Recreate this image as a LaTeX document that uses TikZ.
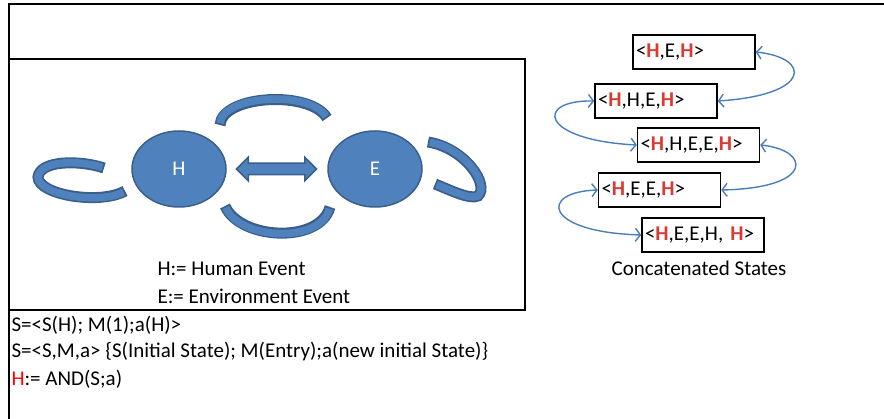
\documentclass[tikz,border=0pt]{standalone}
\usepackage{fontspec}
\setmainfont{Carlito}
\usetikzlibrary{arrows.meta,shapes.geometric,shapes.arrows}
\definecolor{evfill}{HTML}{4F81BD}
\definecolor{evline}{HTML}{3A5F8B}
\definecolor{hred}{HTML}{DC3A31}
\definecolor{linkblue}{HTML}{4A7EBB}
\newcommand{\rH}{\textcolor{hred}{\textbf{H}}}
\newcommand{\band}[1]{\draw[bandout] #1; \draw[bandin] #1;}

\begin{document}
\begin{tikzpicture}[x=1pt,y=-1pt,
    font=\fontsize{21}{25}\selectfont,
    event/.style={ellipse,fill=evfill,draw=evline,line width=1.5pt,
      minimum width=94pt,minimum height=76pt,text=white},
    statebox/.style={draw,line width=1.5pt,minimum height=34pt,
      inner xsep=3pt,text width=116pt,align=left},
    link/.style={draw=linkblue,line width=1.4pt,
      {Straight Barb[length=5pt,width=13pt]}-{Straight Barb[length=5pt,width=13pt]}},
    bandout/.style={draw=evline,line width=11pt},
    bandin/.style={draw=evfill,line width=7.5pt,shorten <=1.8pt,shorten >=1.8pt}]
  \useasboundingbox (0,0) rectangle (884,419);
  % frame
  \draw[line width=2pt] (884,4) -- (9,4) -- (9,419);
  \draw[line width=2pt] (9,59) rectangle (525,310);

  % events
  \node[event] (H) at (179,169) {H};
  \node[event] (E) at (375,169) {E};
  \node[double arrow,fill=evfill,draw=evline,line width=1.5pt,
    minimum height=80pt,double arrow head extend=6pt,
    inner sep=5pt] (HE) at (276.5,169) {};
  \band{(220,125) .. controls (222,95) and (310,90) .. (327,118)}
  \band{(225,206) .. controls (240,240) and (320,244) .. (330,207)}
  \band{(104,168) .. controls (80,160) and (40,160) .. (38,177)
    .. controls (38,195) and (100,205) .. (125,191)}
  \band{(428,142) .. controls (465,148) and (490,185) .. (478,196)
    .. controls (470,200) and (450,190) .. (435,184)}

  \node[anchor=west] (hdef) at (154,269) {H:= Human Event};
  \node[anchor=west] (edef) at (154,296) {E:= Environment Event};
  \node[anchor=west] (rule1) at (8,325) {S=<S(H); M(1);a(H)>};
  \node[anchor=west] (rule2) at (8,352) {S=<S,M,a> \{S(Initial State); M(Entry);a(new initial State)\}};
  \node[anchor=west] (rule3) at (8,379) {\textcolor{red}{H}:= AND(S;a)};

  % states
  \node[statebox] (s1) at (694,52) {<\rH,E,\rH>};
  \node[statebox] (s2) at (656,101) {<\rH,H,E,\rH>};
  \node[statebox] (s3) at (698.5,145) {<\rH,H,E,E,\rH>};
  \node[statebox] (s4) at (659.5,190) {<\rH,E,E,\rH>};
  \node[statebox] (s5) at (703,235) {<\rH,E,E,H, \rH>};
  \node (cs) at (699,268) {Concatenated States};

  \draw[link] (s1.east) .. controls +(56,6) and +(94,-6) .. (s2.east);
  \draw[link] (s2.west) .. controls +(-60,-1) and +(-97,-5) .. (s3.west);
  \draw[link] (s3.east) .. controls +(50,5) and +(94,-2) .. (s4.east);
  \draw[link] (s4.west) .. controls +(-59,2) and +(-98,-3) .. (s5.west);
\end{tikzpicture}
\end{document}
